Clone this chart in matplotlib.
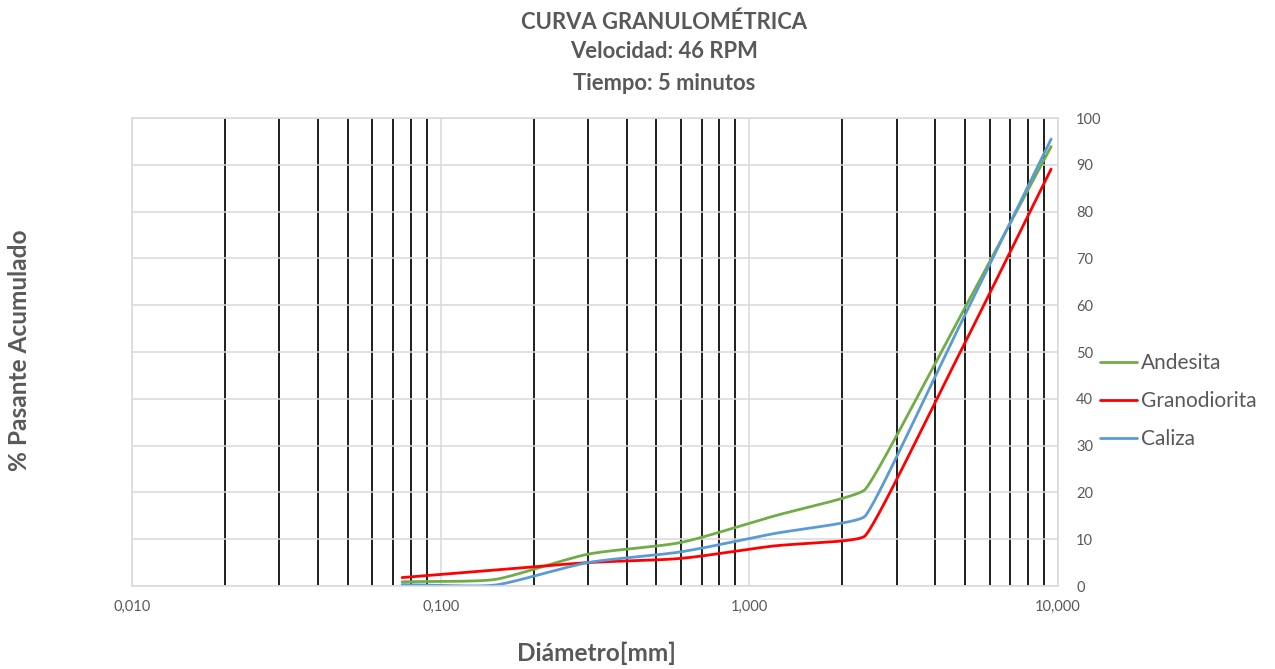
import numpy as np
import matplotlib
matplotlib.use("Agg")
import matplotlib.pyplot as plt
from matplotlib.ticker import FixedLocator, FuncFormatter, NullFormatter

# Sieve openings (mm) and cumulative passing (%) per rock type
sizes_mm = [0.075, 0.15, 0.3, 0.6, 1.18, 2.36, 4.75, 9.5]
andesita = [0.9, 1.4, 6.8, 9.3, 14.8, 20.5, 56.8, 93.9]
granodiorita = [1.8, 3.4, 5.0, 5.9, 8.5, 10.6, 49.1, 89.1]
caliza = [0.3, 0.2, 5.0, 7.3, 11.1, 14.8, 55.0, 95.5]

series_names = ["Andesita", "Granodiorita", "Caliza"]
series_colors = ["#70AD47", "#FF0000", "#5B9BD5"]

x_major = [0.01, 0.1, 1, 10]
x_minor = [m * d for d in (0.01, 0.1, 1) for m in range(2, 10)]
y_ticks = list(range(0, 101, 10))

TEXT = "#595959"
GRID = "#D9D9D9"
plt.rcParams["font.family"] = ["Lato", "DejaVu Sans"]

W, H = 1275, 669
fig = plt.figure(figsize=(W / 100, H / 100), dpi=100)
L, R, T, B = 132, 1058, 118, 586
ax = fig.add_axes([L / W, 1 - B / H, (R - L) / W, (B - T) / H])

XPX = (R - L) / 3.0   # pixels per decade
YPX = (B - T) / 100.0  # pixels per percent


def smooth(x, y, n=60):
    """Rounded-corner Bezier smoothing of a polyline in screen-proportional space.
    Handles follow the bisector of adjacent segments and shrink at sharp turns."""
    P = np.column_stack([np.log10(x) * XPX, np.asarray(y, float) * YPX])
    m = len(P)
    tang, reach = [], []
    for i in range(m):
        if i == 0 or i == m - 1:
            d = P[1] - P[0] if i == 0 else P[-1] - P[-2]
            tang.append(d / np.linalg.norm(d))
            reach.append(0.3 * np.linalg.norm(d))
            continue
        u, v = P[i] - P[i - 1], P[i + 1] - P[i]
        lu, lv = np.linalg.norm(u), np.linalg.norm(v)
        bis = u / lu + v / lv
        tang.append(bis / np.linalg.norm(bis))
        turn = abs(np.degrees(np.arctan2(v[1], v[0]) - np.arctan2(u[1], u[0])))
        reach.append(0.3 * min(lu, lv) * max(0.38, 1 - turn / 40.0))
    t = np.linspace(0, 1, n)[:, None]
    out = []
    for i in range(m - 1):
        p1, p2 = P[i], P[i + 1]
        c1 = p1 + tang[i] * reach[i]
        c2 = p2 - tang[i + 1] * reach[i + 1]
        seg = (1 - t) ** 3 * p1 + 3 * (1 - t) ** 2 * t * c1 + 3 * (1 - t) * t ** 2 * c2 + t ** 3 * p2
        out.append(seg if i == 0 else seg[1:])
    S = np.vstack(out)
    return 10 ** (S[:, 0] / XPX), S[:, 1] / YPX


ax.set_xscale("log")
ax.set_xlim(0.01, 10)
ax.set_ylim(0, 100)

# black lines at intermediate sizes, light grid at decades and every 10 %
ax.xaxis.set_major_locator(FixedLocator(x_major))
ax.xaxis.set_minor_locator(FixedLocator(x_minor))
ax.xaxis.set_minor_formatter(NullFormatter())
ax.xaxis.set_major_formatter(FuncFormatter(lambda v, p: f"{v:.3f}".replace(".", ",")))
ax.yaxis.set_major_locator(FixedLocator(y_ticks))
ax.grid(True, which="major", axis="both", color=GRID, linewidth=1.1)
ax.grid(True, which="minor", axis="x", color="#0D0D0D", linewidth=1.3)
ax.set_axisbelow(True)
for s in ax.spines.values():
    s.set_color(GRID)
    s.set_linewidth(1.1)

ax.yaxis.tick_right()
ax.tick_params(axis="both", which="both", length=0, colors=TEXT, labelsize=10.5)
ax.tick_params(axis="y", pad=13)
ax.tick_params(axis="x", pad=10)

for name, vals, col in zip(series_names, [andesita, granodiorita, caliza], series_colors):
    sx, sy = smooth(sizes_mm, vals)
    ax.plot(sx, sy, color=col, linewidth=2.0, label=name, solid_capstyle="round")

ax.legend(loc="center left", bbox_to_anchor=(1100 / W, 1 - 401 / H), bbox_transform=fig.transFigure,
          frameon=False, borderpad=0, borderaxespad=0, handlelength=1.78, handletextpad=0.2,
          labelspacing=0.86, fontsize=15, labelcolor=TEXT)

for ypix, line in [(22, "CURVA GRANULOMÉTRICA"), (52, "Velocidad: 46 RPM"), (84, "Tiempo: 5 minutos")]:
    fig.text(664 / W, 1 - ypix / H, line, ha="center", va="center",
             fontsize=15.8, fontweight="bold", color=TEXT)
fig.text(596 / W, 1 - 653 / H, "Diámetro[mm]", ha="center", va="center",
         fontsize=17.6, fontweight="bold", color=TEXT)
fig.text(20 / W, 1 - 350 / H, "% Pasante Acumulado", ha="center", va="center", rotation=90,
         fontsize=17.6, fontweight="bold", color=TEXT)

fig.savefig("out.png", dpi=100)
